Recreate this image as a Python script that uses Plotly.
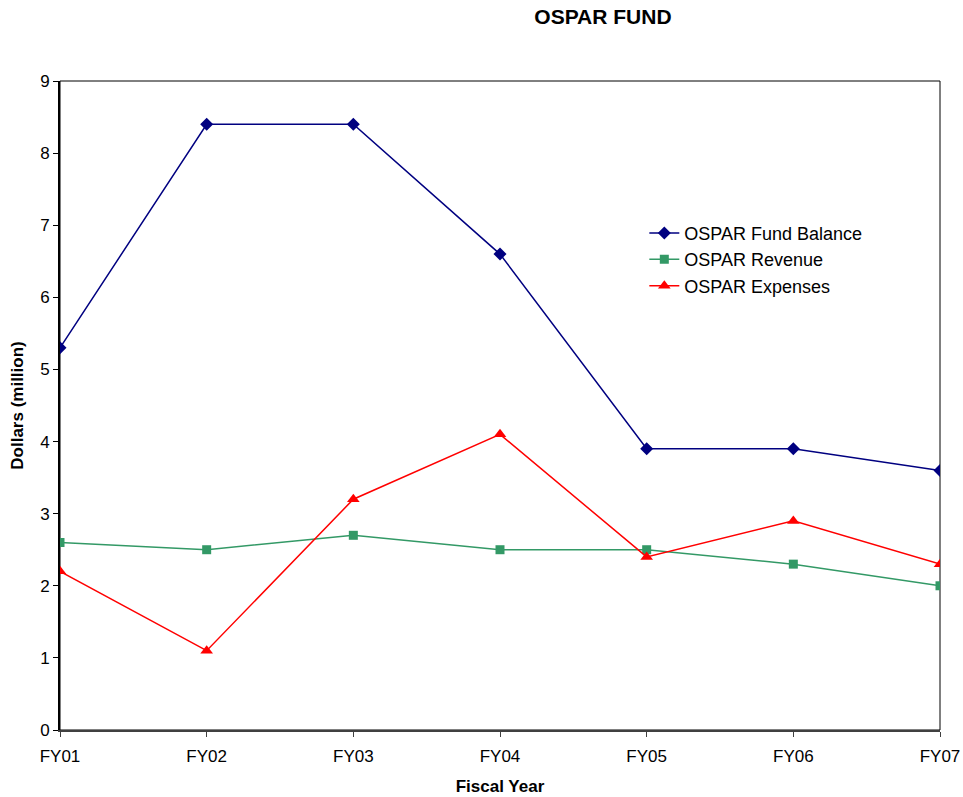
import plotly.graph_objects as go

years = ["FY01", "FY02", "FY03", "FY04", "FY05", "FY06", "FY07"]
fund_balance = [5.3, 8.4, 8.4, 6.6, 3.9, 3.9, 3.6]
revenue = [2.6, 2.5, 2.7, 2.5, 2.5, 2.3, 2.0]
expenses = [2.2, 1.1, 3.2, 4.1, 2.4, 2.9, 2.3]

FONT = "Liberation Sans, Arial, sans-serif"
xs = list(range(len(years)))

fig = go.Figure()
fig.add_trace(go.Scatter(x=xs, y=fund_balance, name="OSPAR Fund Balance", mode="lines+markers",
                         line=dict(color="#000080", width=1.5),
                         marker=dict(symbol="diamond", size=10, color="#000080")))
fig.add_trace(go.Scatter(x=xs, y=revenue, name="OSPAR Revenue", mode="lines+markers",
                         line=dict(color="#339966", width=1.5),
                         marker=dict(symbol="square", size=9, color="#339966")))
fig.add_trace(go.Scatter(x=xs, y=expenses, name="OSPAR Expenses", mode="lines+markers",
                         line=dict(color="#FF0000", width=1.5),
                         marker=dict(symbol="triangle-up", size=11, color="#FF0000")))

fig.update_layout(
    width=963, height=797,
    margin=dict(l=60, r=23, t=81, b=67, autoexpand=False),
    paper_bgcolor="white", plot_bgcolor="white",
    font=dict(family=FONT, size=17, color="black"),
    title=dict(text="<b>OSPAR FUND</b>", x=0.617, xref="paper", xanchor="center",
               y=1 - 9 / 797, yref="container", yanchor="top",
               font=dict(size=21, family=FONT, color="black")),
    xaxis=dict(range=[0, 6], tickvals=xs, ticktext=years, showgrid=False, zeroline=False,
               showline=True, linecolor="#404040", linewidth=1.5,
               ticks="outside", ticklen=5, tickcolor="#404040", automargin=False,
               ticklabeloverflow="allow", ticklabelstandoff=5,
               title=dict(text="<b>Fiscal Year</b>", font=dict(size=17), standoff=15)),
    yaxis=dict(range=[0, 9], dtick=1, showgrid=False, zeroline=False,
               showline=True, linecolor="black", linewidth=2,
               ticks="outside", ticklen=5, tickcolor="black", automargin=False,
               title=dict(text="<b>Dollars (million)</b>", font=dict(size=17), standoff=12)),
    legend=dict(x=0.664, y=0.794, xanchor="left", yanchor="top",
                bgcolor="rgba(0,0,0,0)", font=dict(size=18), tracegroupgap=0),
    showlegend=True,
)
fig.add_shape(type="rect", xref="paper", yref="paper", x0=0, y0=0, x1=1, y1=1,
              line=dict(color="black", width=1), layer="below")

fig.write_html("out.html", config={"displayModeBar": False},
               post_script="document.body.style.margin='0px';")
